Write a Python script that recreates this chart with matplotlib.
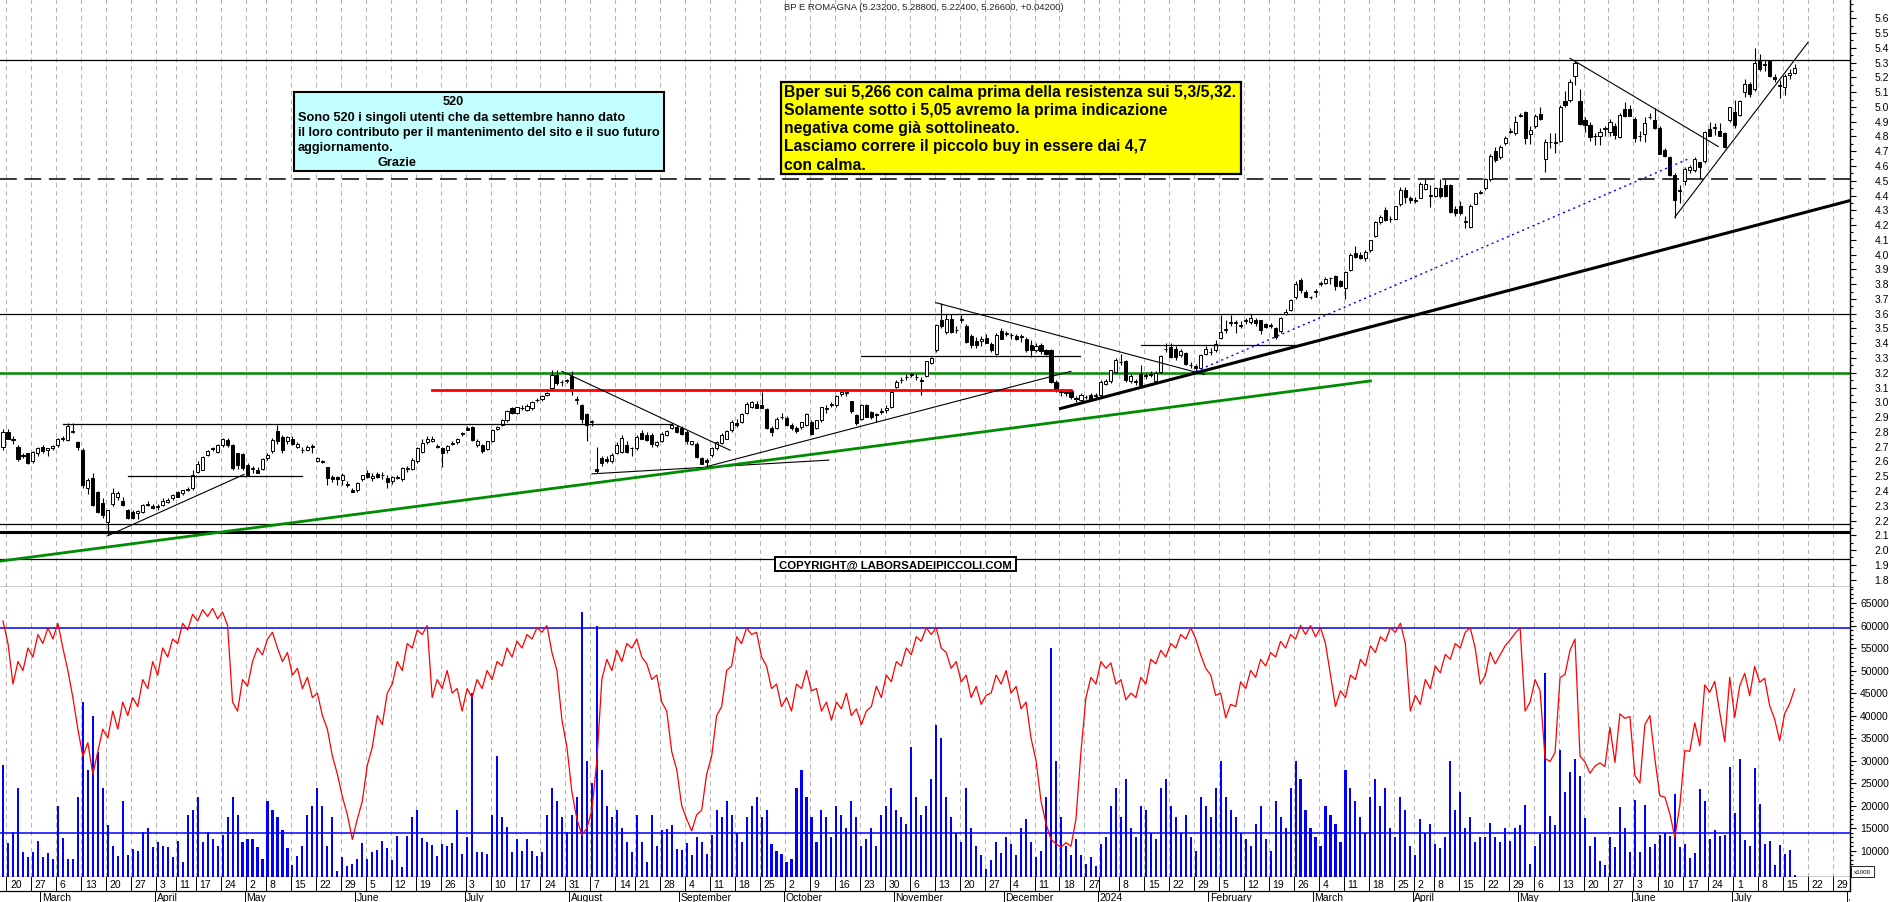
import matplotlib
matplotlib.use('Agg')
import matplotlib.pyplot as plt
from matplotlib.patches import Rectangle
from matplotlib.transforms import blended_transform_factory
import numpy as np
import pandas as pd

plt.rcParams['font.family'] = ['Liberation Sans', 'DejaVu Sans']

## candele giornaliere, dal 17 feb 2023 al 18 lug 2024
opens = [
    2.70, 2.80, 2.75, 2.70, 2.645, 2.655, 2.60, 2.655, 2.695, 2.675,
    2.69, 2.71, 2.755, 2.745, 2.80, 2.73, 2.68, 2.42, 2.485, 2.39,
    2.32, 2.19, 2.315, 2.36, 2.335, 2.27, 2.26, 2.248, 2.26, 2.305,
    2.30, 2.29, 2.305, 2.325, 2.35, 2.395, 2.385, 2.41, 2.42, 2.53,
    2.545, 2.645, 2.685, 2.665, 2.71, 2.745, 2.71, 2.655, 2.65, 2.575,
    2.55, 2.545, 2.55, 2.62, 2.67, 2.805, 2.765, 2.735, 2.755, 2.70,
    2.68, 2.68, 2.705, 2.603, 2.605, 2.56, 2.495, 2.495, 2.475, 2.45,
    2.405, 2.41, 2.48, 2.52, 2.485, 2.515, 2.505, 2.49, 2.465, 2.495,
    2.48, 2.55, 2.55, 2.60, 2.665, 2.73, 2.735, 2.705, 2.69, 2.675,
    2.72, 2.73, 2.785, 2.825, 2.83, 2.71, 2.71, 2.685, 2.74, 2.82,
    2.85, 2.88, 2.96, 2.93, 2.96, 2.95, 2.96, 3.015, 3.02, 3.05,
    3.095, 3.185, 3.135, 3.145, 3.18, 3.015, 2.985, 2.92, 2.87, 2.55,
    2.625, 2.615, 2.60, 2.655,
    2.665, 2.71, 2.69, 2.688, 2.79, 2.778, 2.782, 2.71, 2.737, 2.778,
    2.823, 2.834, 2.827, 2.80, 2.72, 2.72, 2.62, 2.613, 2.643, 2.688,
    2.728, 2.755, 2.812, 2.86, 2.868, 2.925, 2.97, 2.99, 2.985, 2.953,
    2.827, 2.823, 2.90, 2.895, 2.845, 2.827, 2.834, 2.845, 2.868, 2.823,
    2.879, 2.954, 2.985, 2.98, 3.055, 3.066, 3.008, 2.913, 2.89, 2.985,
    2.935, 2.924, 2.935, 2.947, 2.97, 3.105, 3.15, 3.17, 3.185, 3.17,
    3.154, 3.179, 3.269, 3.353, 3.56, 3.477, 3.567, 3.49, 3.56, 3.517,
    3.45, 3.418, 3.413, 3.436, 3.398, 3.33, 3.481, 3.465, 3.455, 3.45,
    3.445, 3.431, 3.386, 3.353, 3.386, 3.353, 3.353, 3.138, 3.07, 3.066,
    3.075, 3.03, 3.015, 3.035, 3.048, 3.045, 3.048, 3.127, 3.143, 3.206,
    3.27, 3.278, 3.143, 3.14, 3.195, 3.18, 3.19, 3.143, 3.206, 3.36,
    3.375, 3.364, 3.323, 3.335, 3.25, 3.247, 3.233, 3.33, 3.34, 3.353,
    3.436, 3.49, 3.54, 3.54, 3.52,
    3.55, 3.545, 3.56, 3.555, 3.53, 3.52, 3.50, 3.48, 3.60, 3.625,
    3.71, 3.825, 3.745, 3.71, 3.75, 3.80, 3.805, 3.84, 3.855, 3.82,
    3.775, 3.895, 4.01, 4.00, 3.975, 4.03, 4.124, 4.22, 4.304, 4.24,
    4.243, 4.344, 4.44, 4.385, 4.36, 4.385, 4.446, 4.40, 4.40, 4.45,
    4.47, 4.472, 4.31, 4.33, 4.22, 4.19, 4.345, 4.42, 4.45, 4.513,
    4.70, 4.66, 4.757, 4.83, 4.82, 4.94, 4.964, 4.818, 4.874, 4.953,
    4.65, 4.76, 4.755, 4.77, 5.04, 5.05, 5.21, 5.04, 4.908, 4.88,
    4.80, 4.80, 4.85, 4.833, 4.874, 4.795, 4.986, 4.986, 4.92, 4.80,
    4.817, 4.93, 4.914, 4.856, 4.705, 4.66, 4.536, 4.43, 4.496, 4.57,
    4.57, 4.625, 4.633, 4.85, 4.86, 4.84, 4.825, 4.908, 4.968, 4.946,
    5.104, 5.155, 5.122, 5.313, 5.29, 5.313, 5.20, 5.15, 5.133, 5.215, 5.232,
]
highs = [
    2.82, 2.82, 2.77, 2.71, 2.66, 2.66, 2.67, 2.70, 2.71, 2.69,
    2.71, 2.76, 2.77, 2.86, 2.86, 2.74, 2.69, 2.49, 2.52, 2.40,
    2.35, 2.27, 2.42, 2.40, 2.36, 2.28, 2.27, 2.27, 2.31, 2.33,
    2.31, 2.31, 2.35, 2.35, 2.38, 2.40, 2.41, 2.43, 2.54, 2.60,
    2.64, 2.68, 2.70, 2.72, 2.76, 2.76, 2.72, 2.66, 2.66, 2.59,
    2.57, 2.56, 2.62, 2.66, 2.76, 2.85, 2.78, 2.77, 2.77, 2.73,
    2.70, 2.71, 2.72, 2.63, 2.61, 2.565, 2.51, 2.50, 2.52, 2.47,
    2.42, 2.46, 2.51, 2.54, 2.52, 2.53, 2.53, 2.51, 2.50, 2.51,
    2.56, 2.57, 2.62, 2.70, 2.75, 2.77, 2.77, 2.72, 2.70, 2.71,
    2.74, 2.76, 2.80, 2.84, 2.84, 2.75, 2.72, 2.74, 2.82, 2.84,
    2.89, 2.95, 2.97, 2.97, 2.98, 2.99, 3.01, 3.03, 3.05, 3.07,
    3.22, 3.22, 3.15, 3.16, 3.21, 3.04, 2.99, 2.93, 2.88, 2.70,
    2.64, 2.64, 2.66, 2.73,
    2.78, 2.74, 2.70, 2.78, 2.81, 2.80, 2.79, 2.74, 2.80, 2.81,
    2.86, 2.85, 2.84, 2.81, 2.74, 2.73, 2.63, 2.62, 2.70, 2.74,
    2.79, 2.81, 2.88, 2.89, 2.93, 3.00, 3.01, 3.01, 3.07, 2.96,
    2.84, 2.90, 2.93, 2.91, 2.86, 2.84, 2.87, 2.93, 2.88, 2.88,
    2.97, 2.98, 3.00, 3.05, 3.08, 3.09, 3.01, 2.92, 2.99, 2.99,
    2.94, 2.93, 2.96, 2.98, 3.08, 3.15, 3.17, 3.19, 3.20, 3.19,
    3.17, 3.28, 3.31, 3.53, 3.67, 3.60, 3.60, 3.52, 3.59, 3.53,
    3.46, 3.44, 3.45, 3.46, 3.41, 3.47, 3.50, 3.48, 3.47, 3.46,
    3.46, 3.44, 3.42, 3.40, 3.40, 3.36, 3.36, 3.15, 3.09, 3.08,
    3.09, 3.04, 3.06, 3.05, 3.06, 3.06, 3.15, 3.16, 3.22, 3.30,
    3.33, 3.29, 3.19, 3.16, 3.25, 3.20, 3.21, 3.21, 3.32, 3.40,
    3.40, 3.38, 3.36, 3.34, 3.27, 3.26, 3.33, 3.38, 3.37, 3.42,
    3.59, 3.56, 3.59, 3.56, 3.55,
    3.57, 3.60, 3.57, 3.56, 3.54, 3.54, 3.51, 3.58, 3.63, 3.70,
    3.82, 3.84, 3.76, 3.72, 3.77, 3.82, 3.85, 3.85, 3.86, 3.83,
    3.89, 4.01, 4.06, 4.02, 4.03, 4.10, 4.23, 4.27, 4.32, 4.26,
    4.33, 4.46, 4.46, 4.40, 4.39, 4.49, 4.51, 4.47, 4.46, 4.51,
    4.51, 4.48, 4.33, 4.36, 4.26, 4.34, 4.42, 4.44, 4.52, 4.68,
    4.73, 4.74, 4.80, 4.86, 4.94, 4.96, 4.97, 4.87, 4.95, 5.00,
    4.78, 4.82, 4.82, 5.01, 5.11, 5.19, 5.32, 5.12, 4.93, 4.90,
    4.82, 4.86, 4.87, 4.92, 4.89, 4.96, 5.03, 5.01, 4.93, 4.84,
    4.93, 4.96, 4.99, 4.87, 4.72, 4.67, 4.55, 4.47, 4.59, 4.61,
    4.66, 4.63, 4.84, 4.90, 4.89, 4.89, 4.83, 5.00, 5.05, 5.05,
    5.19, 5.17, 5.40, 5.36, 5.32, 5.32, 5.22, 5.18, 5.22, 5.26, 5.288,
]
lows = [
    2.68, 2.75, 2.72, 2.60, 2.62, 2.58, 2.59, 2.64, 2.66, 2.64,
    2.68, 2.70, 2.74, 2.74, 2.79, 2.68, 2.42, 2.38, 2.30, 2.25,
    2.22, 2.10, 2.30, 2.34, 2.30, 2.21, 2.21, 2.21, 2.25, 2.30,
    2.28, 2.27, 2.30, 2.32, 2.34, 2.36, 2.37, 2.40, 2.41, 2.52,
    2.54, 2.64, 2.67, 2.66, 2.70, 2.70, 2.54, 2.55, 2.54, 2.50,
    2.52, 2.52, 2.54, 2.61, 2.66, 2.72, 2.66, 2.72, 2.71, 2.69,
    2.66, 2.67, 2.66, 2.595, 2.59, 2.44, 2.46, 2.44, 2.44, 2.43,
    2.39, 2.39, 2.47, 2.49, 2.47, 2.49, 2.48, 2.42, 2.45, 2.48,
    2.47, 2.53, 2.54, 2.59, 2.66, 2.72, 2.73, 2.69, 2.565, 2.66,
    2.71, 2.72, 2.77, 2.81, 2.74, 2.70, 2.66, 2.68, 2.73, 2.81,
    2.84, 2.87, 2.92, 2.92, 2.95, 2.94, 2.95, 3.00, 3.01, 3.04,
    3.09, 3.12, 3.11, 3.13, 3.05, 2.99, 2.86, 2.74, 2.84, 2.52,
    2.57, 2.59, 2.59, 2.65,
    2.66, 2.66, 2.64, 2.68, 2.75, 2.74, 2.70, 2.70, 2.73, 2.77,
    2.82, 2.79, 2.78, 2.72, 2.71, 2.62, 2.58, 2.56, 2.63, 2.68,
    2.72, 2.75, 2.80, 2.83, 2.86, 2.92, 2.96, 2.96, 2.96, 2.82,
    2.77, 2.82, 2.89, 2.84, 2.81, 2.79, 2.82, 2.84, 2.78, 2.82,
    2.87, 2.93, 2.97, 2.97, 3.04, 3.04, 2.93, 2.85, 2.88, 2.90,
    2.89, 2.87, 2.92, 2.93, 2.96, 3.10, 3.13, 3.15, 3.17, 3.15,
    3.05, 3.17, 3.26, 3.34, 3.50, 3.46, 3.47, 3.47, 3.54, 3.40,
    3.37, 3.37, 3.38, 3.40, 3.34, 3.32, 3.43, 3.45, 3.43, 3.42,
    3.41, 3.34, 3.31, 3.34, 3.33, 3.32, 3.13, 3.07, 3.04, 3.04,
    3.02, 3.00, 3.00, 3.02, 3.01, 3.03, 3.04, 3.12, 3.13, 3.20,
    3.25, 3.14, 3.13, 3.12, 3.11, 3.16, 3.17, 3.13, 3.20, 3.34,
    3.30, 3.29, 3.31, 3.25, 3.23, 3.22, 3.22, 3.32, 3.32, 3.34,
    3.43, 3.47, 3.52, 3.47, 3.50,
    3.53, 3.53, 3.52, 3.46, 3.50, 3.50, 3.43, 3.47, 3.59, 3.62,
    3.70, 3.74, 3.71, 3.70, 3.71, 3.79, 3.80, 3.80, 3.76, 3.78,
    3.70, 3.89, 3.98, 3.97, 3.96, 4.02, 4.12, 4.21, 4.23, 4.22,
    4.24, 4.33, 4.35, 4.35, 4.35, 4.38, 4.44, 4.32, 4.39, 4.38,
    4.39, 4.28, 4.26, 4.27, 4.18, 4.18, 4.34, 4.41, 4.44, 4.50,
    4.63, 4.65, 4.74, 4.82, 4.81, 4.93, 4.75, 4.75, 4.86, 4.91,
    4.56, 4.72, 4.69, 4.76, 5.00, 5.03, 5.15, 4.88, 4.83, 4.77,
    4.74, 4.74, 4.80, 4.80, 4.78, 4.79, 4.93, 4.94, 4.76, 4.77,
    4.76, 4.92, 4.85, 4.68, 4.66, 4.53, 4.25, 4.35, 4.47, 4.55,
    4.56, 4.52, 4.62, 4.80, 4.81, 4.80, 4.72, 4.90, 4.86, 4.94,
    5.07, 5.07, 5.11, 5.24, 5.24, 5.20, 5.17, 5.06, 5.08, 5.19, 5.224,
]
closes = [
    2.80, 2.755, 2.745, 2.615, 2.635, 2.59, 2.665, 2.69, 2.67, 2.69,
    2.705, 2.755, 2.76, 2.84, 2.80, 2.70, 2.44, 2.475, 2.305, 2.26,
    2.24, 2.27, 2.385, 2.385, 2.305, 2.215, 2.215, 2.262, 2.305, 2.31,
    2.285, 2.295, 2.335, 2.34, 2.375, 2.36, 2.405, 2.415, 2.51, 2.585,
    2.63, 2.67, 2.69, 2.71, 2.75, 2.71, 2.555, 2.575, 2.555, 2.505,
    2.555, 2.525, 2.615, 2.645, 2.745, 2.735, 2.675, 2.765, 2.715, 2.72,
    2.675, 2.70, 2.70, 2.62, 2.595, 2.485, 2.48, 2.48, 2.51, 2.44,
    2.395, 2.455, 2.51, 2.495, 2.50, 2.495, 2.51, 2.46, 2.495, 2.485,
    2.555, 2.555, 2.61, 2.69, 2.725, 2.755, 2.755, 2.70, 2.66, 2.705,
    2.725, 2.755, 2.79, 2.81, 2.745, 2.74, 2.67, 2.74, 2.81, 2.83,
    2.88, 2.94, 2.925, 2.97, 2.965, 2.975, 3.005, 3.015, 3.045, 3.06,
    3.185, 3.13, 3.14, 3.15, 3.10, 3.02, 2.885, 2.845, 2.87, 2.535,
    2.59, 2.60, 2.645, 2.71,
    2.76, 2.665, 2.692, 2.767, 2.755, 2.744, 2.72, 2.733, 2.789, 2.805,
    2.845, 2.80, 2.789, 2.737, 2.735, 2.631, 2.586, 2.597, 2.688, 2.733,
    2.778, 2.805, 2.868, 2.85, 2.924, 2.992, 3.00, 2.963, 2.963, 2.823,
    2.80, 2.89, 2.902, 2.845, 2.823, 2.805, 2.868, 2.924, 2.789, 2.879,
    2.969, 2.963, 2.987, 3.041, 3.071, 3.066, 2.94, 2.863, 2.985, 2.902,
    2.902, 2.913, 2.937, 2.963, 3.071, 3.138, 3.154, 3.172, 3.188, 3.172,
    3.143, 3.278, 3.30, 3.526, 3.515, 3.567, 3.477, 3.488, 3.56, 3.409,
    3.386, 3.386, 3.432, 3.404, 3.353, 3.458, 3.431, 3.465, 3.454, 3.431,
    3.443, 3.353, 3.353, 3.382, 3.346, 3.33, 3.138, 3.093, 3.071, 3.066,
    3.037, 3.026, 3.048, 3.037, 3.015, 3.048, 3.138, 3.143, 3.217, 3.285,
    3.274, 3.15, 3.179, 3.138, 3.116, 3.183, 3.188, 3.201, 3.314, 3.364,
    3.307, 3.307, 3.348, 3.262, 3.251, 3.233, 3.319, 3.364, 3.341, 3.398,
    3.477, 3.499, 3.544, 3.544, 3.522,
    3.555, 3.57, 3.535, 3.49, 3.51, 3.525, 3.445, 3.57, 3.615, 3.69,
    3.80, 3.76, 3.715, 3.715, 3.755, 3.805, 3.835, 3.845, 3.79, 3.79,
    3.88, 3.995, 3.985, 3.98, 4.018, 4.096, 4.22, 4.254, 4.232, 4.238,
    4.328, 4.44, 4.39, 4.37, 4.37, 4.48, 4.48, 4.40, 4.45, 4.40,
    4.40, 4.29, 4.28, 4.28, 4.225, 4.33, 4.416, 4.425, 4.51, 4.67,
    4.64, 4.728, 4.788, 4.83, 4.897, 4.945, 4.79, 4.845, 4.94, 4.915,
    4.76, 4.765, 4.76, 4.998, 5.014, 5.17, 5.295, 4.885, 4.878, 4.795,
    4.805, 4.833, 4.852, 4.90, 4.81, 4.942, 4.937, 4.94, 4.79, 4.80,
    4.89, 4.93, 4.856, 4.682, 4.67, 4.54, 4.37, 4.44, 4.58, 4.59,
    4.65, 4.59, 4.83, 4.806, 4.86, 4.806, 4.728, 4.998, 4.88, 5.043,
    5.155, 5.088, 5.295, 5.257, 5.286, 5.207, 5.19, 5.14, 5.21, 5.23, 5.266,
]

## volumi (scala x1000) e oscillatore rosso, stessi giorni
volumes = [
    29000, 11700, 14200, 24000, 9650, 8500, 9650, 12200, 8500, 9500,
    8170, 20000, 12800, 8170, 8170, 22000, 43000, 28000, 40000, 32000,
    24000, 15600, 11000, 8900, 21000, 9050, 10400, 10000, 14100, 15000,
    10800, 12000, 11100, 10800, 8500, 12200, 7400, 18000, 19000, 22000,
    12000, 14100, 12600, 11100, 13500, 17500, 22000, 18000, 12000, 12600,
    12500, 10800, 8200, 21000, 19000, 17500, 14600, 10500, 6800, 8900,
    11100, 18000, 20000, 24000, 20000, 11100, 17500, 5400, 8500, 6700,
    7050, 8200, 11700, 8200, 9650, 10200, 12200, 10500, 8000, 13350,
    6300, 13350, 17500, 19000, 12750, 12000, 11250, 8900, 11500, 11100,
    11700, 19000, 9300, 13000, 45000, 9800, 9650, 9300, 18000, 31000,
    17500, 15200, 9800, 12500, 10000, 12600, 10000, 8900, 9800, 18000,
    24000, 21000, 17500, 14100, 18000, 22000, 63000, 30000, 25000, 60000,
    28000, 20000, 17500, 19000, 15000, 11900, 9800, 18000, 11900, 7400,
    18000, 11000, 14600, 14800, 15600, 10400, 10200, 11700, 9000, 13000,
    11900, 9300, 13500, 19000, 17500, 21000, 18000, 14000, 12000, 17500,
    20000, 22000, 17500, 19000, 11500, 10000, 9300, 7400, 8200, 24000,
    28000, 22000, 17500, 12000, 19000, 17500, 13000, 20000, 18000, 15000,
    21000, 17500, 11000, 12500, 15000, 11000, 18000, 20000, 24000, 19000,
    17500, 16000, 33000, 22000, 18000, 20000, 26000, 38000, 35000, 22000,
    17500, 14000, 12000, 24000, 15000, 11000, 9000, 6000, 8000, 12000,
    9500, 13000, 11500, 9000, 15000, 17000, 12000, 8500, 10000, 22000,
    55000, 30000, 17500, 11000, 9000, 12500, 9000, 7000, 8500, 6500,
    11500, 13000, 20000, 24000, 17500, 26000, 15000, 13000, 20000, 19000,
    14000, 12500, 24000, 26000, 20000, 17500, 14000, 18000, 13000, 10000,
    22000, 20000, 17500, 24000, 30000, 22000, 19000, 17500, 14000, 12500,
    11000, 16000, 20000, 12500, 10000, 21000, 17500, 15000, 24000, 30000,
    26000, 19000, 15000, 13000, 11000, 20000, 18000, 16000, 12000, 28000,
    24000, 21000, 17500, 14000, 22000, 26000, 20000, 24000, 15000, 13000,
    22000, 19000, 11000, 9000, 17000, 14000, 16000, 11500, 10500, 13000,
    30000, 19000, 23000, 15000, 17500, 12000, 13000,
    13100, 16100, 13100, 12000, 15000, 12100, 15000, 15600, 20200, 7100,
    11100, 13700, 49400, 17800, 15600, 32400, 23000, 27400, 30400, 26700,
    17200, 11000, 13000, 7800, 6800, 13000, 10900, 19600, 15000, 9800,
    21300, 9800, 20200, 10800, 11400, 13600, 13900, 13200, 22600, 10800,
    11600, 8400, 9600, 23700, 21100, 12600, 14500, 13300, 13500, 28500,
    18400, 30400, 12400, 11000, 28400, 20400, 11400, 12200, 6800, 11300,
    9300, 10200, 4500,
]
oscillator = [
    61000, 56000, 47000, 52000, 50000, 55000, 53000, 58000, 56000, 59500,
    57000, 60500, 55000, 50000, 44000, 37000, 31000, 34000, 27000, 32000,
    37000, 35000, 41000, 37000, 43000, 40000, 44000, 42000, 48000, 46000,
    52000, 49000, 55000, 53000, 57000, 56000, 60500, 59000, 62500, 61000,
    63500, 62000, 63800, 61500, 63000, 60000, 43000, 41000, 48000, 46500,
    52000, 55000, 53500, 57000, 58500, 55000, 52000, 54000, 49000, 50500,
    46000, 48500, 44000, 45000, 40000, 37000, 31000, 27000, 22000, 18000,
    12500, 17000, 21000, 29000, 33000, 40000, 38000, 45000, 47000, 52000,
    50000, 56000, 55000, 59000, 58000, 60000, 44000, 48000, 46000, 50000,
    45000, 46000, 41000, 46000, 44000, 48000, 46000, 50000, 48000, 52000,
    51000, 55000, 53000, 56500, 55000, 58000, 57000, 59500, 58500, 60000,
    54000, 50000, 39000, 33000, 23000, 17000, 13500, 15000, 19000, 30000,
    48000, 52500, 50000, 54500, 52000, 56000, 55000, 57000, 53000, 51500,
    48000, 49000, 43000, 41000, 32000, 28000, 20000, 17000, 14400, 18000,
    19000, 27000, 31000, 40000, 42000, 50000, 51000, 57500, 56000, 59500,
    58000, 58500, 53000, 51000, 46000, 47000, 42000, 44000, 41000, 47000,
    46000, 50000, 45500, 46000, 41000, 43000, 39000, 43000, 41500, 45000,
    40000, 41500, 38000, 41000, 42000, 46500, 44000, 49000, 47500, 52000,
    51000, 55000, 53500, 57500, 56500, 59500, 58000, 59500, 55000, 54000,
    50500, 52000, 47500, 49000, 44000, 46500, 42500, 44500, 45000, 49000,
    47000, 50000, 45000, 46500, 41500, 43000, 35000, 30000, 21000, 16000,
    12500, 11500, 10800, 11800, 11000, 17000, 32000, 44000, 48500, 47000,
    52000, 50500, 51700, 47000, 48000, 43500, 45000, 44000, 48500, 47000,
    52500, 51500, 54500, 53000, 56000, 55000, 58000, 57000, 59500, 57000,
    53500, 50500, 49000, 44500, 45000, 39500, 42500, 42000, 47500, 46000,
    50000, 48500, 52500, 51000, 54000, 53000, 56500, 55000, 58000, 57000,
    60000, 58000, 60000, 57500, 59500, 56000, 49000, 42000, 45500, 44000,
    49000, 48000, 52500, 51000, 55500, 54000, 57500, 56500, 59500, 58500,
    60500, 56000, 41000, 44500, 42500, 48000, 46000, 51000, 49500, 53600,
    52500, 56000, 55000, 58500, 59500, 55000, 47000,
    48800, 54000, 51500, 53500, 55500, 56800, 58300, 59500, 41000, 43000,
    48000, 45500, 30500, 29800, 31800, 48400, 49200, 54500, 57000, 31000,
    29700, 27200, 28800, 29500, 28700, 37400, 29600, 40400, 39400, 39800,
    26700, 25000, 38000, 40000, 30400, 22200, 21900, 18200, 13000, 20000,
    32200, 32100, 38400, 33300, 46800, 45200, 47600, 40700, 34200, 48500,
    39600, 46600, 49400, 44400, 50900, 47400, 48300, 42200, 39200, 34400,
    40400, 42600, 45900,
]

## livelli orizzontali e trendline (indice giorno, prezzo)
full_levels = [5.315, 3.60, 2.178, 1.94]
green_level = 3.20
thick_level = 2.12
dashed_level = 4.51
short_levels = [([11, 133], 2.854), ([24, 59], 2.503), ([171, 214.8], 3.314), ([227, 258], 3.386)]
red_level = ([85, 213], 3.082)
thin_trends = [([20, 47.3], [2.097, 2.512]), ([139.9, 213], [2.564, 3.21]),
               ([111, 144.7], [3.21, 2.676]), ([185.9, 239.8], [3.675, 3.188]),
               ([313, 342.7], [5.329, 4.732]), ([334, 360.7], [4.254, 5.438]),
               ([117, 164.5], [2.516, 2.609])]
green_trend = ([-1.6, 273], [1.925, 3.145])
thick_trend = ([210.9, 369.1], [2.958, 4.366])
blue_trend = ([238, 336.7], [3.21, 4.648])

vol_levels = [59400, 13900]

holidays = ['2023-04-07', '2023-04-10', '2023-05-01', '2023-08-15', '2023-12-25',
            '2023-12-26', '2024-01-01', '2024-03-29', '2024-04-01']
months_it = ['', 'January', 'February', 'March', 'April', 'May', 'June', 'July',
             'August', 'September', 'October', 'November', 'December']

days = pd.bdate_range('2023-02-17', '2024-08-09')
days = days[~days.isin(pd.to_datetime(holidays))]
pos = np.arange(len(days)) - 1

W, H = 1890, 903
fig = plt.figure(figsize=(W / 100, H / 100), dpi=100)

def frame(x0, y0, x1, y1):
    return [x0 / W, 1 - y1 / H, (x1 - x0) / W, (y1 - y0) / H]

ax = fig.add_axes(frame(0, 0, 1850, 588))
axv = fig.add_axes(frame(0, 588, 1850, 878))
axd = fig.add_axes(frame(0, 878, 1850, 903))
XL = (-1.6, 369.1)
for a in (ax, axv, axd):
    a.set_xlim(*XL)
    a.set_xticks([])
    for s in ('left', 'top'):
        a.spines[s].set_visible(False)
    a.spines['right'].set_linewidth(1.0)
    a.spines['bottom'].set_linewidth(1.0)
axd.spines['right'].set_visible(False)
axd.spines['bottom'].set_visible(False)
axd.set_ylim(0, 1)
axd.set_yticks([])

ax.set_ylim(1.755, 5.7305)
axv.set_ylim(4165, 68552)

## griglia settimanale (la prima settimana inizia prima del grafico)
wk = days.isocalendar().week.values
week_start = [k for k in range(1, len(days)) if wk[k] != wk[k - 1]]
for k in week_start:
    gx = pos[k] - 0.3
    for a in (ax, axv):
        a.axvline(gx, color='#b4b4b4', lw=0.75, ls=(0, (4.5, 3.5)), zorder=0)

## candele
n = len(opens)
xc = pos[:n]
o, h, l, c = map(np.array, (opens, highs, lows, closes))
ax.vlines(xc, l, h, color='black', lw=0.8, zorder=3)
body_lo = np.minimum(o, c)
body_h = np.maximum(np.abs(c - o), 0.004)
cols = np.where(c >= o, 'white', 'black')
ax.bar(xc, body_h, 0.62, body_lo, color=cols, edgecolor='black', linewidth=0.7, zorder=4)

## linee di analisi
for lv in full_levels:
    ax.axhline(lv, color='black', lw=0.9, zorder=2)
ax.axhline(thick_level, color='black', lw=2.2, zorder=2)
ax.axhline(green_level, color='#008c00', lw=1.8, zorder=2)
ax.axhline(dashed_level, color='black', lw=1.1, ls=(0, (11, 5)), zorder=2)
for xs, lv in short_levels:
    ax.plot(xs, [lv, lv], color='black', lw=0.9, zorder=5)
ax.plot(red_level[0], [red_level[1]] * 2, color='red', lw=2.0, zorder=5)
for xs, ys in thin_trends:
    ax.plot(xs, ys, color='black', lw=0.8, zorder=5)
ax.plot(*green_trend, color='#008c00', lw=2.0, zorder=5)
ax.plot(*thick_trend, color='black', lw=2.2, zorder=5)
ax.plot(*blue_trend, color='blue', lw=1.0, ls=(0, (1.5, 2.5)), zorder=5)

## volumi
xv = pos[:len(volumes)]
axv.bar(xv, volumes, 0.42, color='#0000ff', zorder=2)
axv.plot(pos[:len(oscillator)], oscillator, color='#ff0000', lw=0.9, zorder=4)
for lv in vol_levels:
    axv.axhline(lv, color='#0000ff', lw=1.1, zorder=3)

## assi a destra
blend = blended_transform_factory(fig.transFigure, ax.transData)
ax.yaxis.tick_right()
ax.set_yticks(np.round(np.arange(1.8, 5.65, 0.1), 2))
ax.set_yticks(np.round(np.arange(1.75, 5.75, 0.05), 2), minor=True)
ax.tick_params(axis='y', which='major', length=4, width=0.8, labelright=False)
ax.tick_params(axis='y', which='minor', length=2.2, width=0.8)
for v in np.arange(1.8, 5.65, 0.1):
    ax.text(1889 / W, v, '%.1f' % v, transform=blend, ha='right', va='center',
            fontsize=7.5, clip_on=False)

blendv = blended_transform_factory(fig.transFigure, axv.transData)
axv.yaxis.tick_right()
axv.set_yticks(np.arange(10000, 65001, 5000))
axv.set_yticks(np.arange(5000, 68001, 1000), minor=True)
axv.tick_params(axis='y', which='major', length=4, width=0.8, labelright=False)
axv.tick_params(axis='y', which='minor', length=2.2, width=0.8)
for v in range(10000, 65001, 5000):
    axv.text(1889 / W, v, str(v), transform=blendv, ha='right', va='center',
             fontsize=7.5, clip_on=False)

## asse date
axd.axhline(0.46, color='black', lw=0.9)
axd.plot([XL[1], XL[1]], [0.46, 1], color='black', lw=1.0, clip_on=False)
prev = None
for k in week_start:
    axd.plot([pos[k] - 0.3] * 2, [0.46, 1], color='black', lw=0.7)
    if prev is not None and k - prev < 4:
        continue
    prev = k
    axd.text(pos[k] + 0.4, 0.73, str(days[k].day), fontsize=7.5, va='center',
             ha='left', clip_on=True)
mo = days.month.values
for k in range(1, len(days)):
    if mo[k] != mo[k - 1] and pos[k] < XL[1]:
        axd.plot([pos[k] - 0.5] * 2, [0, 0.46], color='black', lw=0.7)
        name = str(days[k].year) if mo[k] == 1 else months_it[mo[k]]
        t = axd.text(pos[k] - 0.2, 0.2, name, fontsize=7.5, va='center', ha='left')
        t.set_clip_box(axd.bbox)
        t.set_clip_on(True)

## riquadri di testo
def px(x, y):
    return x / W, 1 - y / H

def rect(x0, y0, x1, y1, fc, lw):
    fig.add_artist(Rectangle((x0 / W, 1 - y1 / H), (x1 - x0) / W, (y1 - y0) / H,
                             transform=fig.transFigure, facecolor=fc,
                             edgecolor='black', linewidth=lw, zorder=10))

fig.text(*px(924, 8), 'BP E ROMAGNA (5.23200, 5.28800, 5.22400, 5.26600, +0.04200)',
         ha='center', va='center', fontsize=6.8, color='#222222')

rect(294, 93, 664, 172, '#c4ffff', 1.5)
fig.text(*px(453, 102), '520', ha='center', va='center', fontsize=9.2,
         fontweight='bold', zorder=11)
for yy, t in [(118, 'Sono 520 i singoli utenti che da settembre hanno dato'),
              (133, 'il loro contributo per il mantenimento del sito e il suo futuro'),
              (148, 'aggiornamento.')]:
    fig.text(*px(298, yy), t, ha='left', va='center', fontsize=9.2,
             fontweight='bold', zorder=11)
fig.text(*px(397, 163), 'Grazie', ha='center', va='center', fontsize=9.2,
         fontweight='bold', zorder=11)

rect(781, 83, 1241, 175, '#ffff00', 1.6)
for yy, t in [(92, 'Bper sui 5,266 con calma prima della resistenza sui 5,3/5,32.'),
              (110, 'Solamente sotto i 5,05 avremo la prima indicazione'),
              (128, 'negativa come già sottolineato.'),
              (147, 'Lasciamo correre il piccolo buy in essere dai 4,7'),
              (165, 'con calma.')]:
    fig.text(*px(784, yy), t, ha='left', va='center', fontsize=11.3,
             fontweight='bold', zorder=11)

rect(775, 558, 1016, 572, 'white', 1.4)
fig.text(*px(895.5, 565.5), 'COPYRIGHT@ LABORSADEIPICCOLI.COM', ha='center',
         va='center', fontsize=8.2, fontweight='bold', zorder=11)

rect(1851, 867, 1874, 878, 'white', 0.6)
fig.text(*px(1862.5, 872.5), 'x1000', ha='center', va='center', fontsize=4.5, zorder=11)

fig.savefig('out.png', dpi=100)
